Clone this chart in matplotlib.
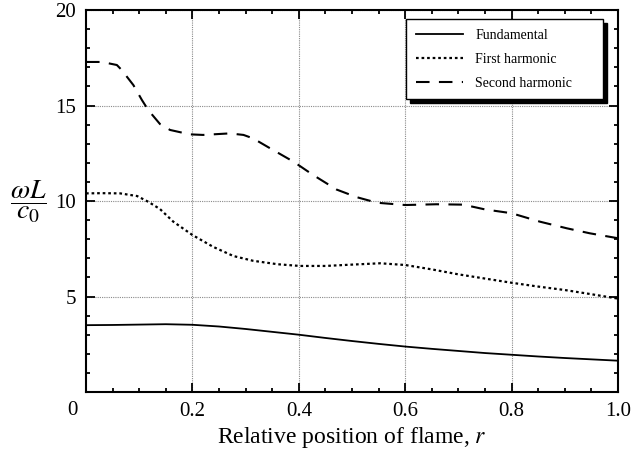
import matplotlib
matplotlib.use("Agg")
import matplotlib.pyplot as plt
from matplotlib.ticker import MultipleLocator

plt.rcParams['font.family'] = ['Liberation Serif', 'DejaVu Serif']
plt.rcParams['mathtext.fontset'] = 'stix'

# Flame position r and non-dimensional frequency for each mode
r_fund = [0.0, 0.05, 0.10, 0.15, 0.20, 0.25, 0.30, 0.35, 0.40, 0.45, 0.50,
          0.55, 0.60, 0.65, 0.70, 0.75, 0.80, 0.85, 0.90, 0.95, 1.00]
w_fund = [3.50, 3.51, 3.53, 3.55, 3.52, 3.43, 3.30, 3.15, 3.00, 2.83, 2.67,
          2.52, 2.38, 2.26, 2.15, 2.04, 1.95, 1.86, 1.78, 1.71, 1.64]

r_first = [0.0, 0.03, 0.064, 0.096, 0.117, 0.139, 0.164, 0.20, 0.239, 0.277,
           0.314, 0.36, 0.402, 0.45, 0.50, 0.553, 0.60, 0.65, 0.70, 0.75,
           0.80, 0.85, 0.90, 0.95, 1.00]
w_first = [10.40, 10.41, 10.40, 10.26, 9.96, 9.58, 8.92, 8.22, 7.60, 7.12,
           6.87, 6.69, 6.60, 6.60, 6.67, 6.74, 6.65, 6.42, 6.16, 5.94,
           5.72, 5.52, 5.34, 5.12, 4.89]

r_second = [0.0, 0.03, 0.058, 0.067, 0.089, 0.105, 0.117, 0.139, 0.158,
            0.195, 0.22, 0.27, 0.296, 0.314, 0.346, 0.39, 0.427, 0.471,
            0.509, 0.547, 0.60, 0.659, 0.709, 0.75, 0.80, 0.853, 0.904,
            0.947, 1.00]
w_second = [17.28, 17.28, 17.12, 16.86, 16.07, 15.29, 14.76, 14.03, 13.72,
            13.49, 13.46, 13.54, 13.46, 13.28, 12.76, 12.06, 11.36, 10.60,
            10.20, 9.91, 9.79, 9.83, 9.81, 9.56, 9.36, 8.92, 8.57,
            8.31, 8.05]

x_ticks = [0.2, 0.4, 0.6, 0.8, 1.0]
x_tick_labels = ['0.2', '0.4', '0.6', '0.8', '1.0']
y_ticks = [5, 10, 15, 20]
y_tick_labels = ['5', '10', '15', '20']

fig = plt.figure(figsize=(6.33, 4.57), dpi=100)
ax = fig.add_axes([0.1359, 0.1422, 0.8404, 0.8359])

ax.plot(r_fund, w_fund, color='black', lw=1.3, label='Fundamental')
ax.plot(r_first, w_first, color='black', lw=1.6, dashes=(1.2, 1.3),
        label='First harmonic')
ax.plot(r_second, w_second, color='black', lw=1.5, dashes=(6.5, 4.5),
        label='Second harmonic')

ax.set_xlim(0, 1.0)
ax.set_ylim(0, 20)
ax.set_xticks(x_ticks)
ax.set_xticklabels(x_tick_labels)
ax.set_yticks(y_ticks)
ax.set_yticklabels(y_tick_labels)
ax.xaxis.set_minor_locator(MultipleLocator(0.05))
ax.yaxis.set_minor_locator(MultipleLocator(1))
ax.tick_params(which='both', direction='in', top=True, right=True,
               labelsize=15, width=1.3, color='black')
ax.tick_params(which='major', length=6.5, pad=7)
ax.tick_params(which='minor', length=2.8)
for s in ax.spines.values():
    s.set_linewidth(1.5)

ax.grid(True, which='major', ls=(0, (1, 1)), color='#8a8a8a', lw=0.8)

# shared origin label at the lower-left corner
ax.annotate('0', xy=(0, 0), xycoords='axes fraction', xytext=(-9.5, -13),
            textcoords='offset points', ha='center', va='center', fontsize=15)

ax.set_xlabel('Relative position of flame, $r$', fontsize=17, labelpad=3)
fig.text(0.044, 0.558, r'$\dfrac{\omega L}{c_0}$', fontsize=20,
         ha='center', va='center')

leg = ax.legend(loc='upper left', bbox_to_anchor=(0.6015, 0.5, 0.3703, 0.476),
                mode='expand', borderaxespad=0, fontsize=10, frameon=True,
                fancybox=False,
                shadow={'color': 'black', 'alpha': 1.0, 'ox': 3, 'oy': -3},
                handlelength=3.4, handletextpad=0.9, labelspacing=0.78,
                borderpad=0.7)
leg.get_frame().set_edgecolor('black')
leg.get_frame().set_linewidth(1.0)

fig.savefig('out.png', dpi=100)
